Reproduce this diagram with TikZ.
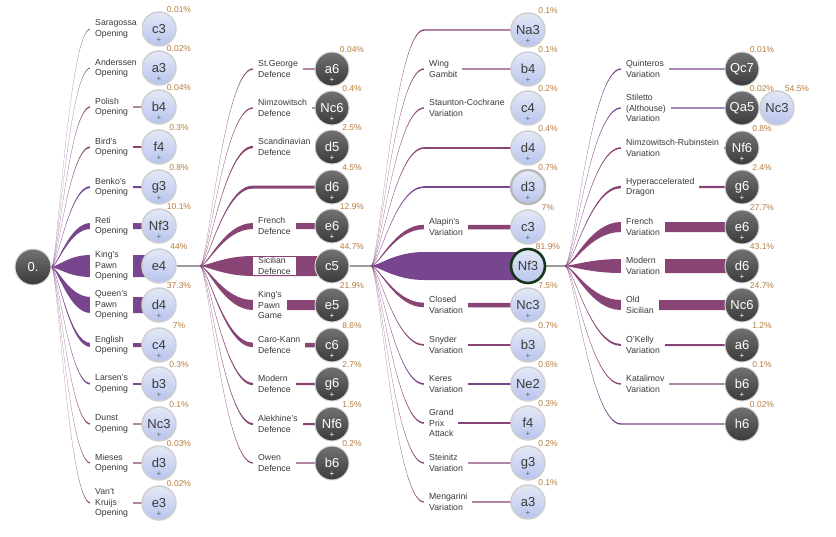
\documentclass[tikz,border=0pt]{standalone}
\usepackage{fontspec}
\setmainfont{Liberation Sans}
\usepackage{tikz}
\usetikzlibrary{calc}

\definecolor{purp}{HTML}{77468F}
\definecolor{plum}{HTML}{874475}
\definecolor{pctc}{HTML}{B57B3E}
\definecolor{lblc}{HTML}{3A3A3A}
\definecolor{litetop}{HTML}{E4E8F6}
\definecolor{litebot}{HTML}{B8C4EE}
\definecolor{liteedge}{HTML}{CFCFCF}
\definecolor{darktop}{HTML}{727272}
\definecolor{darkbot}{HTML}{3A3A3A}
\definecolor{darkedge}{HTML}{D6D6D6}
\definecolor{ringc}{HTML}{16361A}
\definecolor{stemc}{HTML}{9A9A9A}

\pgfdeclarelayer{links}
\pgfsetlayers{links,main}

\tikzset{
  move/.style={circle, minimum size=34pt, inner sep=0pt, font=\fontsize{13}{13}\selectfont},
  lite/.style={move, top color=litetop, bottom color=litebot, draw=liteedge, line width=1.5pt, text=lblc},
  dark/.style={move, top color=darktop, bottom color=darkbot, draw=darkedge, line width=1pt, text=white},
  plusmark/.style={inner sep=0pt, yshift=-11.5pt, font=\fontsize{8}{8}\selectfont},
  litemore/.style={lite, label={[plusmark, text=lblc!80]center:+}},
  darkmore/.style={dark, label={[plusmark, text=white]center:+}},
  worn/.style={litemore, draw=gray!55, line width=2.4pt},
  ringed/.style={lite, draw=ringc, line width=2.6pt},
  pct/.style={text=pctc, inner sep=0pt, font=\fontsize{8.5}{9}\selectfont},
  lbl/.style={anchor=west, align=left, fill=white, inner xsep=5pt, inner ysep=1pt, text=lblc, font=\fontsize{8.7}{10.4}\selectfont},
  stem/.style={draw=stemc, line width=1.5pt},
}

% tapered link: origin, child, reach, width, colour
\newcommand{\limb}[5]{%
  \fill[#5] let \p1=(#1), \p2=(#2.center) in
    (\x1,\y1+0.3) .. controls (\x1+0.15*#3,\y1+0.3) and (\x1+0.45*#3,\y2+#4/2)
    .. (\x1+#3,\y2+#4/2) -- (\x2,\y2+#4/2) -- (\x2,\y2-#4/2) -- (\x1+#3,\y2-#4/2)
    .. controls (\x1+0.45*#3,\y2-#4/2) and (\x1+0.15*#3,\y1-0.3) .. (\x1,\y1-0.3) -- cycle;}

\begin{document}
\begin{tikzpicture}[x=1pt, y=-1pt]
  \useasboundingbox (0,0) rectangle (836,536);

  % root
  \node[dark, minimum size=36pt] (root) at (33,267) {0.};
  \coordinate (f0) at (root.east);

  % white first moves
  \foreach \i/\yy/\mv/\pc/\w/\cl/\st in {
      1/29/c3/0.01/0.8/purp/litemore, 2/68/a3/0.02/0.8/purp/litemore,
      3/107/b4/0.04/1.4/plum/litemore, 4/147/f4/0.3/1.6/plum/litemore,
      5/187/g3/0.8/2/purp/litemore, 6/226/Nf3/10.1/6/purp/litemore,
      7/266/e4/44/22/purp/lite, 8/305/d4/37.3/16/purp/litemore,
      9/345/c4/7/4/purp/litemore, 10/384/b3/0.3/1.6/purp/litemore,
      11/424/Nc3/0.1/1.4/plum/litemore, 12/463/d3/0.03/1.2/plum/litemore,
      13/503/e3/0.02/1.2/plum/litemore} {
    \node[\st] (w\i) at (159,\yy) {\mv};
    \node[pct] (pw\i) at (179,\yy-19) {\pc\%};
    \begin{pgfonlayer}{links}\limb{f0}{w\i}{39}{\w}{\cl}\end{pgfonlayer}
  }
  \foreach \i/\lb in {1/{Saragossa\\Opening}, 2/{Anderssen\\Opening},
      3/{Polish\\Opening}, 4/{Bird's\\Opening}, 5/{Benko's\\Opening},
      6/{Reti\\Opening}, 7/{King's\\Pawn\\Opening}, 8/{Queen's\\Pawn\\Opening},
      9/{English\\Opening}, 10/{Larsen's\\Opening}, 11/{Dunst\\Opening},
      12/{Mieses\\Opening}, 13/{Van't\\Kruijs\\Opening}}
    \node[lbl] (lw\i) at ($(w\i)+(-69,0)$) {\lb};

  % black replies to e4
  \coordinate (f1) at (200,266);
  \foreach \i/\yy/\mv/\pc/\w/\cl/\st in {
      1/69/a6/0.04/1.4/plum/darkmore, 2/108/Nc6/0.4/1.4/plum/darkmore,
      3/147/d5/2.5/2.4/plum/darkmore, 4/187/d6/4.5/3/plum/darkmore,
      5/226/e6/12.9/6/plum/darkmore, 6/266/c5/44.7/20/plum/dark,
      7/305/e5/21.9/10/plum/darkmore, 8/345/c6/8.6/4.5/plum/darkmore,
      9/384/g6/2.7/2.4/plum/darkmore, 10/424/Nf6/1.5/2/plum/darkmore,
      11/463/b6/0.2/1.4/plum/darkmore} {
    \node[\st] (b\i) at (332,\yy) {\mv};
    \node[pct] (pb\i) at (352,\yy-19) {\pc\%};
    \begin{pgfonlayer}{links}\limb{f1}{b\i}{53}{\w}{\cl}\end{pgfonlayer}
  }
  \foreach \i/\lb in {1/{St.George\\Defence}, 2/{Nimzowitsch\\Defence},
      3/{Scandinavian\\Defence}, 5/{French\\Defence}, 6/{Sicilian\\Defence},
      7/{King's\\Pawn\\Game}, 8/{Caro-Kann\\Defence}, 9/{Modern\\Defence},
      10/{Alekhine's\\Defence}, 11/{Owen\\Defence}}
    \node[lbl] (lb\i) at ($(b\i)+(-79,0)$) {\lb};

  % white second moves after c5
  \coordinate (f2) at (371,266);
  \foreach \i/\yy/\mv/\pc/\w/\cl/\st in {
      1/30/Na3/0.1/1.4/plum/litemore, 2/69/b4/0.1/1.4/plum/litemore,
      3/108/c4/0.2/1.4/plum/litemore, 4/148/d4/0.4/1.6/plum/litemore,
      5/187/d3/0.7/1.6/purp/worn, 6/227/c3/7/4.5/plum/litemore,
      7/266/Nf3/81.9/28/purp/ringed, 8/305/Nc3/7.5/4.5/plum/litemore,
      9/345/b3/0.7/1.6/plum/litemore, 10/384/Ne2/0.6/1.6/purp/litemore,
      11/423/f4/0.3/1.6/plum/litemore, 12/463/g3/0.2/1.4/plum/litemore,
      13/502/a3/0.1/1.2/plum/litemore} {
    \node[\st] (m\i) at (528,\yy) {\mv};
    \node[pct] (pm\i) at (548,\yy-19) {\pc\%};
    \begin{pgfonlayer}{links}\limb{f2}{m\i}{53}{\w}{\cl}\end{pgfonlayer}
  }
  \foreach \i/\lb in {2/{Wing\\Gambit}, 3/{Staunton-Cochrane\\Variation},
      6/{Alapin's\\Variation}, 8/{Closed\\Variation}, 9/{Snyder\\Variation},
      10/{Keres\\Variation}, 11/{Grand\\Prix\\Attack}, 12/{Steinitz\\Variation},
      13/{Mengarini\\Variation}}
    \node[lbl] (lm\i) at ($(m\i)+(-104,0)$) {\lb};

  % black replies to Nf3
  \coordinate (f3) at (565,266);
  \foreach \i/\yy/\mv/\pc/\w/\cl/\st in {
      1/69/Qc7/0.01/1.4/purp/dark, 2/108/Qa5/0.02/1.4/purp/dark,
      3/148/Nf6/0.8/1.6/plum/darkmore, 4/187/g6/2.4/2.4/plum/darkmore,
      5/227/e6/27.7/10/plum/darkmore, 6/266/d6/43.1/14/plum/darkmore,
      7/305/Nc6/24.7/10/plum/darkmore, 8/345/a6/1.2/2/plum/darkmore,
      9/384/b6/0.1/1.4/plum/darkmore, 10/424/h6/0.02/1.4/purp/dark} {
    \node[\st] (n\i) at (742,\yy) {\mv};
    \node[pct] (pn\i) at (762,\yy-19) {\pc\%};
    \begin{pgfonlayer}{links}\limb{f3}{n\i}{56}{\w}{\cl}\end{pgfonlayer}
  }
  \foreach \i/\lb in {1/{Quinteros\\Variation}, 2/{Stiletto\\(Althouse)\\Variation},
      3/{Nimzowitsch-Rubinstein\\Variation}, 4/{Hyperaccelerated\\Dragon},
      5/{French\\Variation}, 6/{Modern\\Variation}, 7/{Old\\Sicilian},
      8/{O'Kelly\\Variation}, 9/{Katalimov\\Variation}}
    \node[lbl] (ln\i) at ($(n\i)+(-121,0)$) {\lb};

  % reply to Qa5
  \node[lite] (q1) at (777,108) {Nc3};
  \node[pct] (pq1) at (797,89) {54.5\%};

  % stems to the fans
  \begin{pgfonlayer}{links}
    \draw[stem] (w7) -- (f1);
    \draw[stem] (b6) -- (f2);
    \draw[stem] (m7) -- (f3);
  \end{pgfonlayer}
\end{tikzpicture}
\end{document}
